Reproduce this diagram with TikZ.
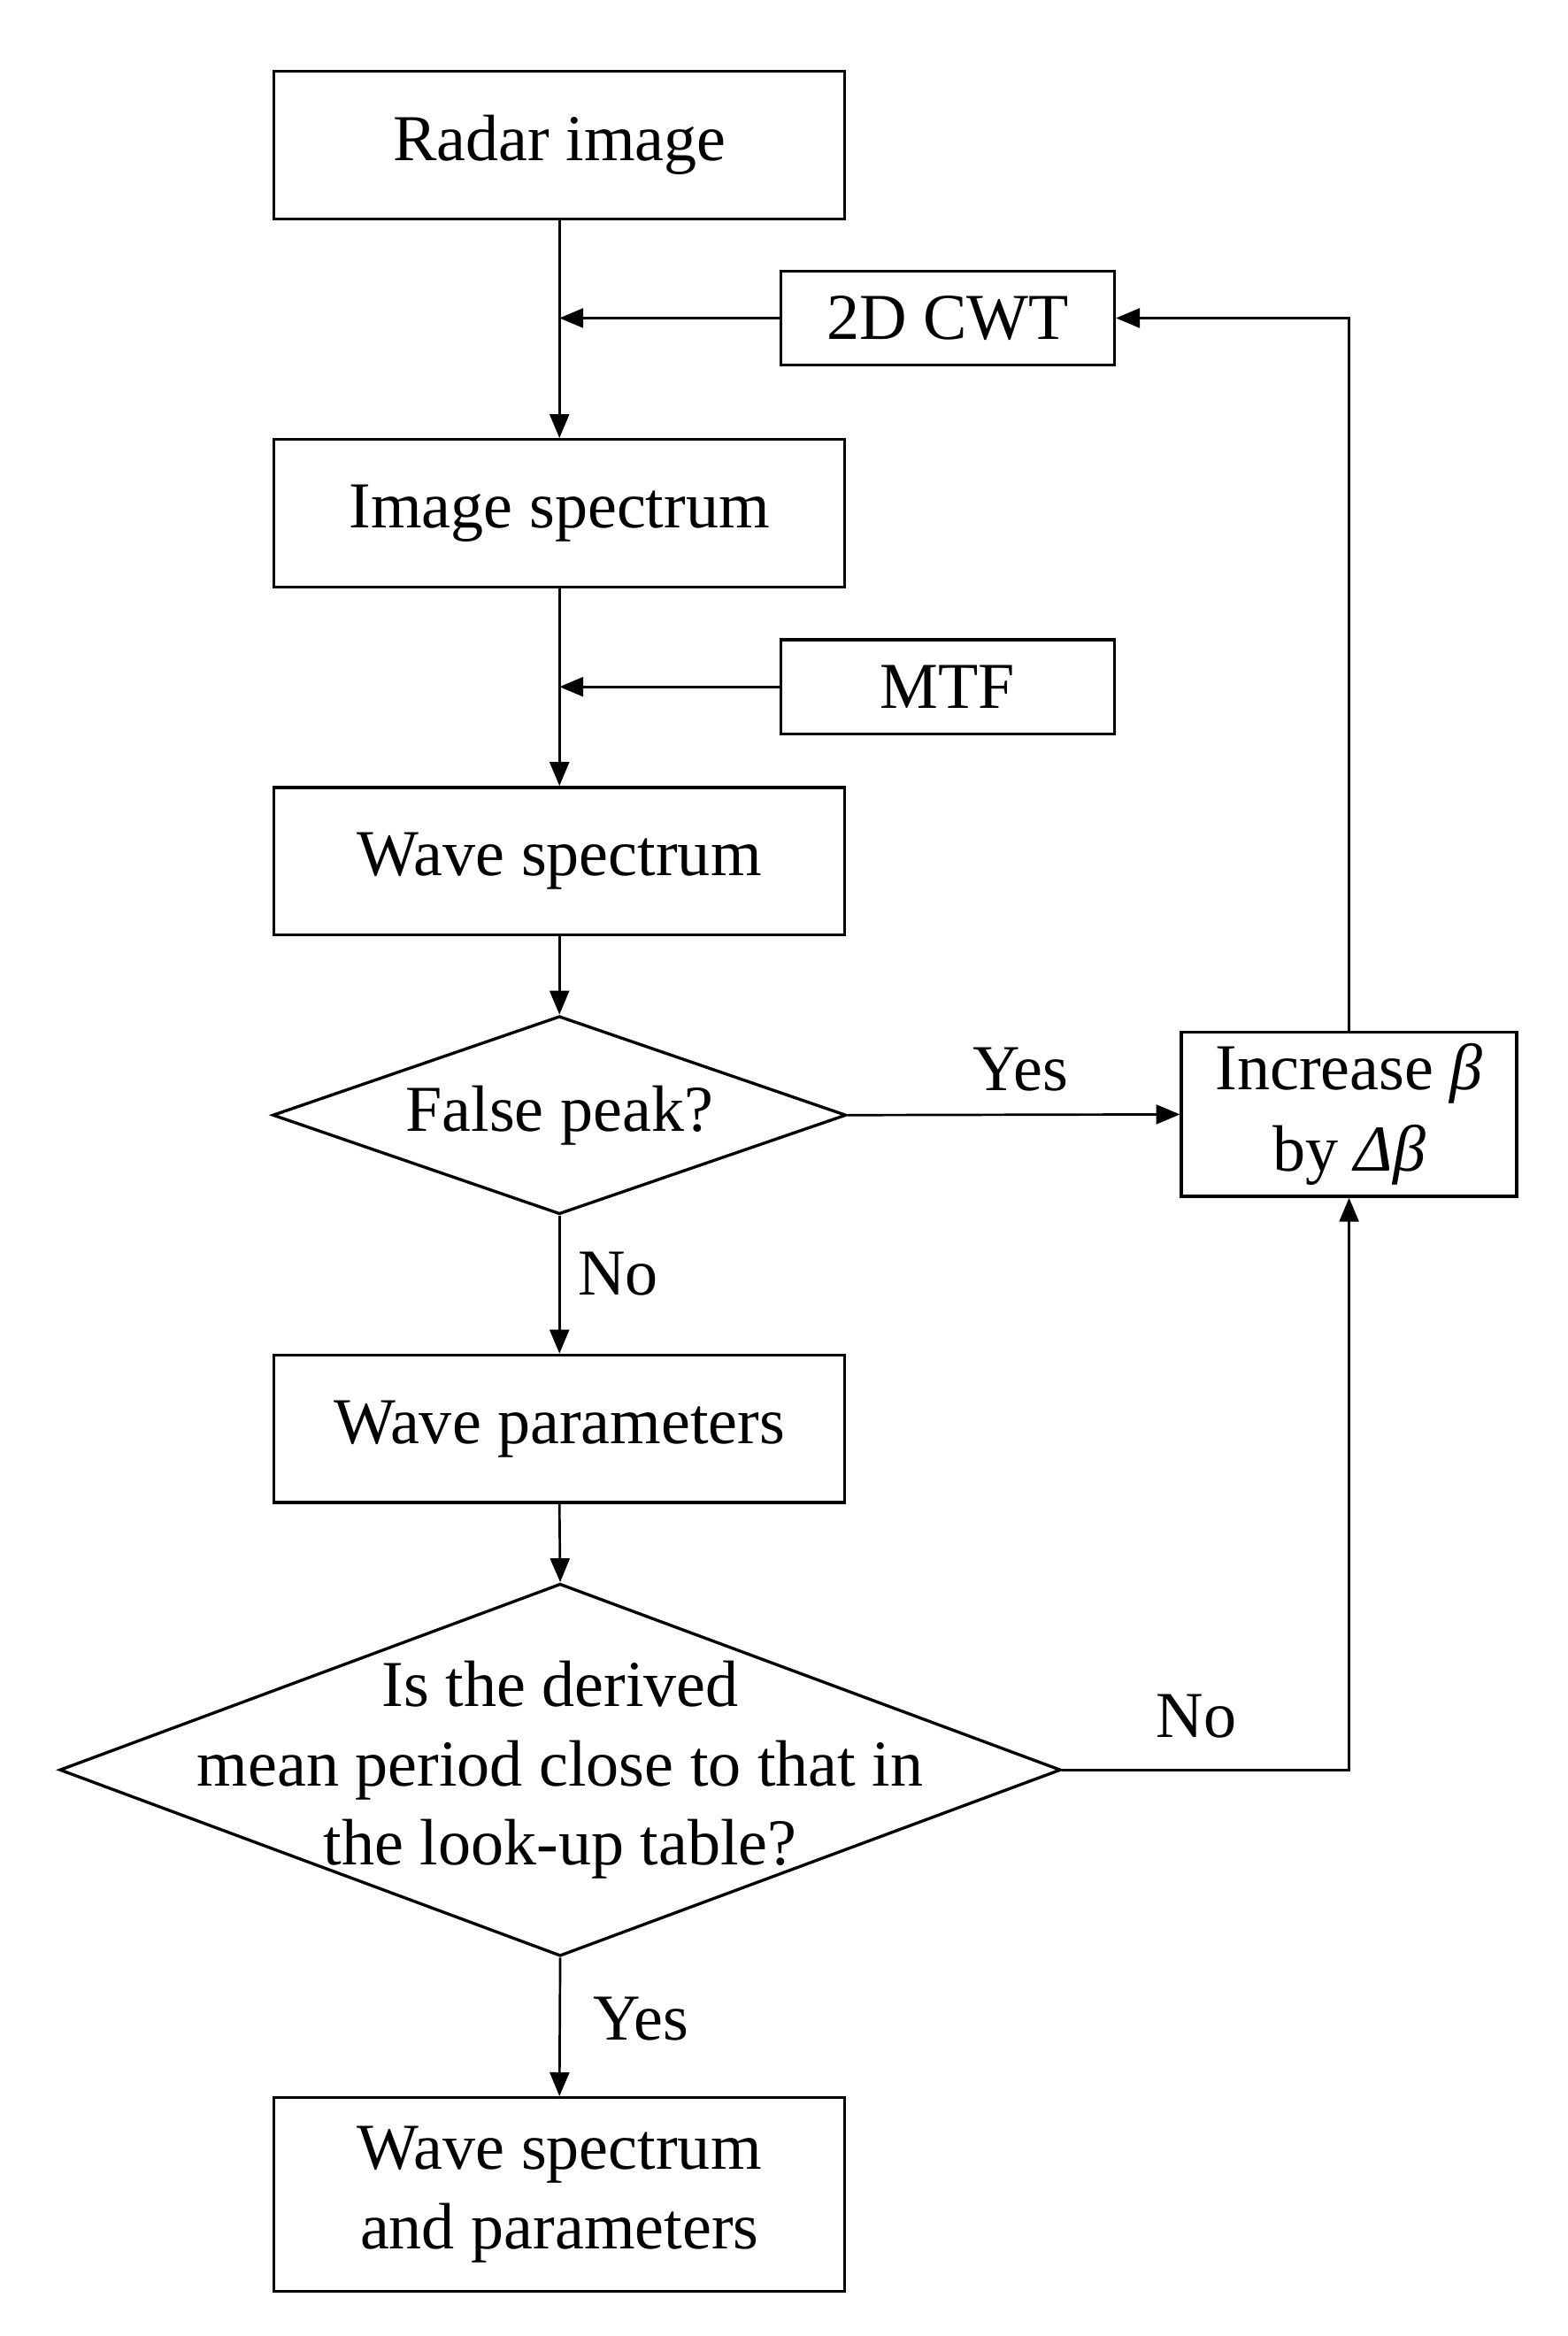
\documentclass[tikz,border=0pt]{standalone}
\usepackage{fontspec}
\setmainfont{Liberation Serif}
\usetikzlibrary{shapes.geometric,arrows.meta}
\begin{document}
\begin{tikzpicture}[x=0.5pt,y=-0.5pt,
  every node/.style={font=\fontsize{22}{26.5}\selectfont},
  procbox/.style={draw=black, line width=1pt, rectangle, minimum width=191.5pt, minimum height=49.5pt, align=center, inner sep=0pt},
  sidebox/.style={draw=black, line width=1pt, rectangle, minimum width=112pt, minimum height=31.5pt, align=center, inner sep=0pt},
  decision/.style={draw=black, line width=1pt, diamond, inner sep=0pt, align=center},
  conn/.style={draw=black, line width=0.8pt},
  arr/.style={conn, -{Triangle[length=8pt,width=6.5pt]}},
  lbl/.style={inner sep=0pt}]
\useasboundingbox (0,0) rectangle (1052,1568);
\node[procbox] (radar) at (375.5,97.5) {Radar image};
\node[sidebox] (cwt) at (636,213.5) {2D CWT};
\node[procbox] (imgspec) at (375.5,344.5) {Image spectrum};
\node[sidebox] (mtf) at (636,461) {MTF};
\node[procbox] (wavespec) at (375.5,578) {Wave spectrum};
\node[decision, minimum width=192.5pt, minimum height=66.5pt, shape aspect=2.9] (peak) at (375.5,748.5) {False peak?};
\node[draw=black, line width=1pt, rectangle, minimum width=112.5pt, minimum height=55pt, align=center, inner sep=0pt] (inc) at (905.5,748) {Increase \textit{β}\\[1pt] by \textit{Δβ}};
\node[procbox] (params) at (375.5,959) {Wave parameters};
\node[decision, minimum width=336pt, minimum height=125pt, shape aspect=2.69] (check) at (376,1188) {};
\node[align=center, inner sep=0pt] (checktxt) at (376,1188) {Is the derived\\ mean period close to that in\\ the look-up table?};
\node[procbox, minimum height=65pt] (final) at (375.5,1473) {Wave spectrum\\ and parameters};
\node[lbl] (yes1) at (685,718) {Yes};
\node[lbl] (no1) at (415,855) {No};
\node[lbl] (no2) at (803,1152) {No};
\node[lbl] (yes2) at (430,1355) {Yes};
\draw[arr] (radar.south) -- (imgspec.north);
\draw[arr] (cwt.west) -- (cwt.west -| radar.south);
\draw[arr] (imgspec.south) -- (wavespec.north);
\draw[arr] (mtf.west) -- (mtf.west -| imgspec.south);
\draw[arr] (wavespec.south) -- (peak.north);
\draw[arr] (peak.east) -- (inc.west);
\draw[arr] (peak.south) -- (params.north);
\draw[arr] (params.south) -- (check.north);
\draw[arr] (check.south) -- (final.north);
\draw[arr] (inc.north) |- (cwt.east);
\draw[arr] (check.east) -| (inc.south);
\end{tikzpicture}
\end{document}
